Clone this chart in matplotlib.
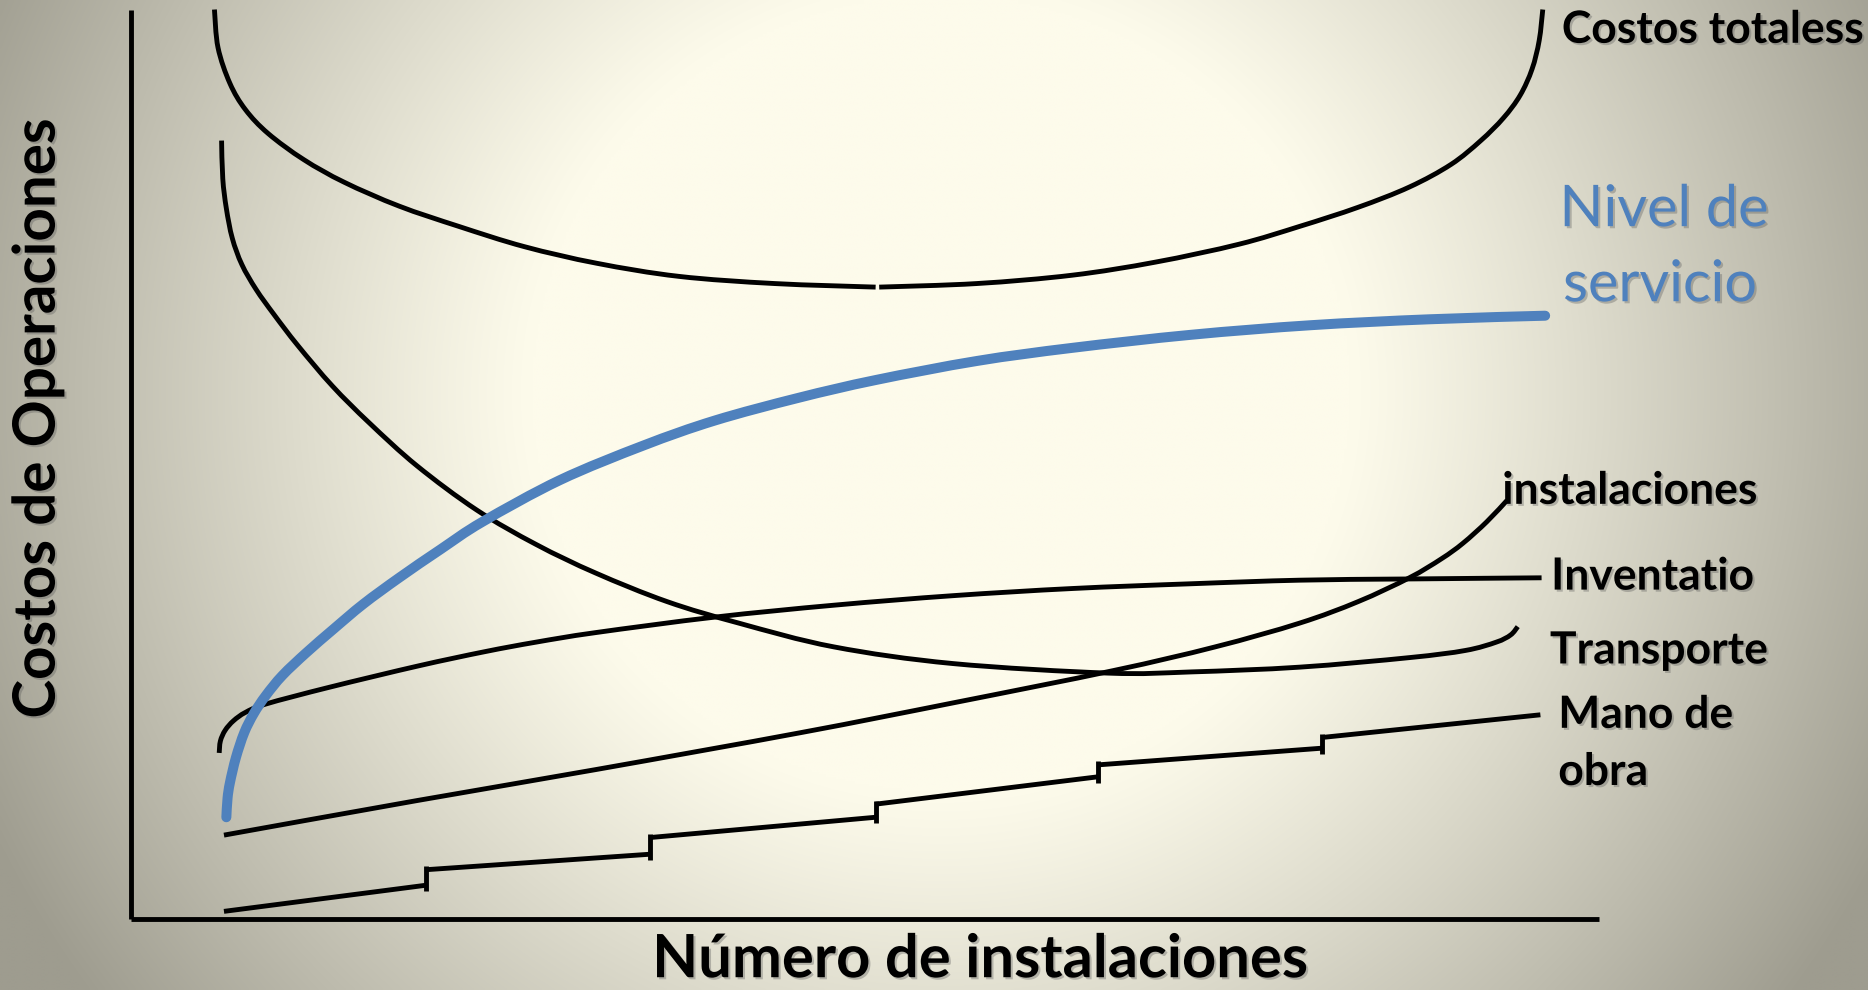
import numpy as np
import matplotlib
matplotlib.use("Agg")
import matplotlib.pyplot as plt
import matplotlib.patheffects as pe
from matplotlib.path import Path
from matplotlib.patches import PathPatch

plt.rcParams['font.family'] = ['Lato', 'DejaVu Sans']

# ---------------- data (diagram units; y grows downward) -------------
costos_totales_left_x = [180, 183, 193, 206, 225, 255, 289, 335, 385, 440, 501, 570, 650, 735]
costos_totales_left_y = [8, 40, 70, 92, 112, 134, 153, 173, 190, 207, 221, 232, 238, 241]
costos_totales_right_x = [738, 820, 900, 970, 1040, 1091, 1140, 1183, 1218, 1243, 1262, 1276, 1286, 1292, 1295]
costos_totales_right_y = [241, 238, 231, 220, 205, 190, 174, 157, 138, 118, 99, 80, 58, 34, 8]

transporte_x = [186, 187, 190, 195, 203, 215, 230, 250, 279, 310, 350, 400, 450, 500, 560, 620, 700, 800, 930, 1000, 1091, 1183, 1230, 1256, 1268, 1274]
transporte_y = [118, 150, 175, 200, 222, 243, 264, 290, 324, 355, 391, 428, 457, 481, 505, 523, 543, 557, 565, 564, 560, 552, 546, 539, 533, 526]

nivel_servicio_x = [190, 191, 193, 198, 205, 213, 223, 237, 257, 280, 305, 335, 370, 405, 470, 540, 600, 670, 735, 820, 900, 1000, 1100, 1200, 1297]
nivel_servicio_y = [686, 670, 657, 636, 615, 599, 584, 567, 548, 528, 507, 485, 461, 438, 403, 374, 353, 334, 319, 303, 292, 281, 273, 268, 265]

inventario_x = [184, 185, 189, 196, 206, 223, 276, 351, 407, 450, 500, 600, 700, 800, 900, 1000, 1091, 1180, 1294]
inventario_y = [632, 622, 613, 605, 598, 591, 577, 559, 547, 539, 531, 518, 508, 500, 494, 490, 487, 486, 485]

instalaciones_x = [188, 350, 500, 672, 800, 934, 1020, 1091, 1140, 1183, 1210, 1228, 1248, 1265]
instalaciones_y = [701, 672, 646, 615, 590, 563, 543, 523, 505, 485, 469, 456, 438, 420]

# "Mano de obra": stepped segments with tick marks at the joints
mano_obra_seg_x0 = [188, 358, 546, 735, 922, 1110]
mano_obra_seg_x1 = [358, 546, 735, 922, 1110, 1293]
mano_obra_seg_y0 = [765, 730, 703, 675, 642, 619]
mano_obra_seg_y1 = [743, 717, 686, 652, 628, 600]

axis_y_x, axis_y_top, axis_y_bottom = 110, 8, 771
axis_x_y, axis_x_left, axis_x_right = 771, 110, 1342

labels_black = ["Costos totaless", "instalaciones", "Inventatio", "Transporte", "Mano de", "obra"]
labels_black_x = [1311, 1261, 1302, 1301, 1308, 1308]
labels_black_y = [25, 412, 484, 546, 600, 648]

label_servicio = ["Nivel de", "servicio"]
label_servicio_x = [1309, 1312]
label_servicio_y = [176, 239]

x_title = "Número de instalaciones"
y_title = "Costos de Operaciones"

W_UNITS, H_UNITS = 1568, 831


def smooth_path(xs, ys):
    """Catmull-Rom curve through the given points, as cubic Bezier path."""
    p = np.column_stack([xs, ys]).astype(float)
    n = len(p)
    verts = [p[0]]
    codes = [Path.MOVETO]
    for i in range(n - 1):
        p0 = p[i - 1] if i > 0 else p[i]
        p1, p2 = p[i], p[i + 1]
        p3 = p[i + 2] if i + 2 < n else p[i + 1]
        c1 = p1 + (p2 - p0) / 6.0
        c2 = p2 - (p3 - p1) / 6.0
        verts += [c1, c2, p2]
        codes += [Path.CURVE4] * 3
    return Path(verts, codes)


# ---------------- figure ----------------
fig = plt.figure(figsize=(18.68, 9.90), dpi=100)
ax = fig.add_axes([0, 0, 1, 1])
ax.set_xlim(0, W_UNITS)
ax.set_ylim(H_UNITS, 0)
ax.axis('off')

# radial background
ny, nx = 420, 790
gx, gy = np.meshgrid(np.linspace(0, W_UNITS, nx), np.linspace(0, H_UNITS, ny))
cx, cy, rx, ry = 790, 330, 820, 800
r = np.sqrt(((gx - cx) / rx) ** 2 + ((gy - cy) / ry) ** 2)
t = np.clip((r - 0.42) / (1.08 - 0.42), 0, 1)
t = t ** 1.1
cream = np.array([253, 251, 235]) / 255
gray = np.array([158, 156, 143]) / 255
img = cream[None, None, :] * (1 - t[..., None]) + gray[None, None, :] * t[..., None]
ax.imshow(img, extent=[0, W_UNITS, H_UNITS, 0], aspect='auto', zorder=0, interpolation='bilinear')

lw_black = 3.5
kw = dict(color='black', lw=lw_black, solid_capstyle='butt', zorder=3)


def curve(xs, ys, color='black', lw=lw_black, cap='butt', z=3):
    patch = PathPatch(smooth_path(xs, ys), facecolor='none', edgecolor=color, lw=lw,
                      capstyle=cap, joinstyle='round', zorder=z)
    ax.add_patch(patch)


# axes
ax.plot([axis_y_x, axis_y_x], [axis_y_top, axis_y_bottom], **kw)
ax.plot([axis_x_left, axis_x_right], [axis_x_y, axis_x_y], **kw)

# curves
curve(costos_totales_left_x, costos_totales_left_y)
curve(costos_totales_right_x, costos_totales_right_y)
curve(transporte_x, transporte_y)
curve(inventario_x, inventario_y)
curve(instalaciones_x, instalaciones_y)
curve(nivel_servicio_x, nivel_servicio_y, color='#4F81BD', lw=7.2, cap='round', z=4)

for x0, x1, y0, y1 in zip(mano_obra_seg_x0, mano_obra_seg_x1, mano_obra_seg_y0, mano_obra_seg_y1):
    ax.plot([x0, x1], [y0, y1], **kw)
for i in range(1, len(mano_obra_seg_x0)):
    xt = mano_obra_seg_x0[i]
    ax.plot([xt, xt], [mano_obra_seg_y0[i] - 3, mano_obra_seg_y1[i - 1] + 5], **kw)

shadow = [pe.SimplePatchShadow(offset=(1.5, -1.5), shadow_rgbFace=(0.35, 0.35, 0.35), alpha=0.35), pe.Normal()]

for s, x, y in zip(labels_black, labels_black_x, labels_black_y):
    ax.text(x, y, s, fontsize=32, fontweight='bold', color='black', ha='left', va='center',
            zorder=5, path_effects=shadow)

for s, x, y in zip(label_servicio, label_servicio_x, label_servicio_y):
    ax.text(x, y, s, fontsize=41.5, color='#4F81BD', ha='left', va='center',
            zorder=5, path_effects=shadow)

ax.text(823, 806, x_title, fontsize=43, fontweight='bold', ha='center', va='center',
        zorder=5, path_effects=shadow)
ax.text(32, 351, y_title, fontsize=42, fontweight='bold', ha='center', va='center',
        rotation=90, zorder=5, path_effects=shadow)

fig.savefig('out.png', dpi=100)
